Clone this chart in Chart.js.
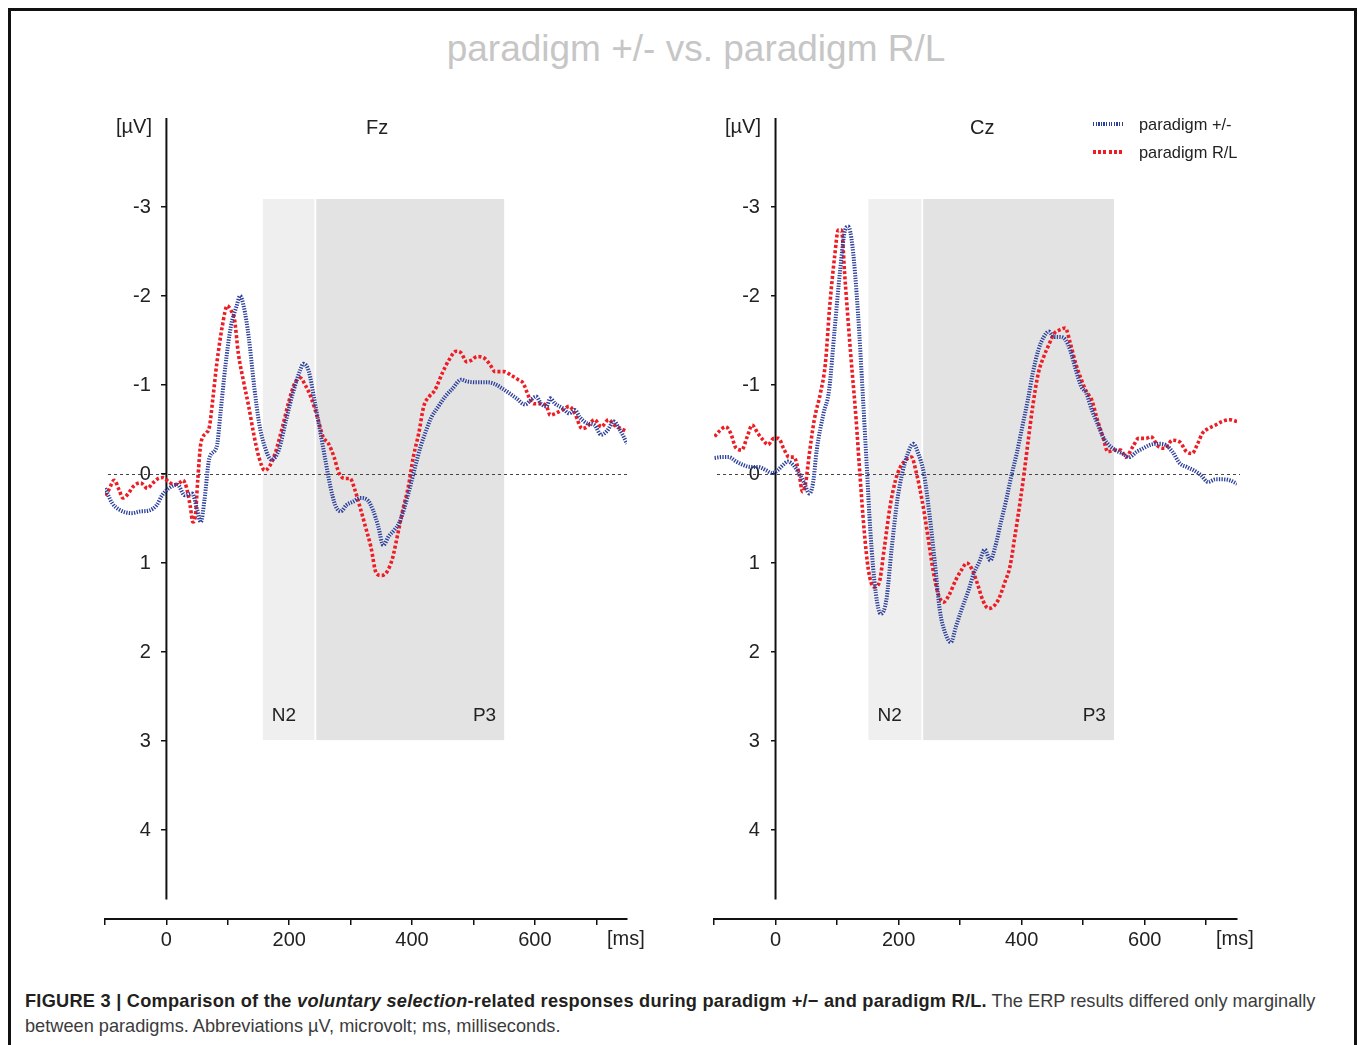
<!DOCTYPE html>
<html><head><meta charset="utf-8">
<script src="https://cdn.jsdelivr.net/npm/chart.js@4.4.1/dist/chart.umd.min.js"></script>
<style>
html,body{margin:0;padding:0;background:#fff;width:1358px;height:1045px;overflow:hidden;font-family:"Liberation Sans",Arial,Helvetica,sans-serif;}
#frame{position:absolute;left:8px;top:8px;width:1349px;height:1100px;border:3px solid #111;box-sizing:border-box;}
canvas{position:absolute;top:0;}
#c1{left:0;} #c2{left:680px;}
.t{position:absolute;white-space:nowrap;line-height:1;}
#title{left:0;width:1392px;text-align:center;top:30px;font-size:37px;color:#c6c6c6;}
.unit{font-size:20px;color:#222;}
.lead{font-size:20px;color:#222;}
.leg{font-size:16.4px;color:#222;}
.sw{position:absolute;width:30px;height:4px;}
#swb{left:1093px;top:122px;background:repeating-linear-gradient(90deg,#2b3f9b 0 1.3px,#fff 1.3px 2.6px);}
#swr{left:1093px;top:150px;background:repeating-linear-gradient(90deg,#ee1d25 0 3px,#fff 3px 5.2px);}
.cap{position:absolute;left:25px;white-space:nowrap;font-size:18.2px;color:#3b3b3b;line-height:1;}
.cap b{color:#231f20;letter-spacing:0.25px;}
</style></head>
<body>
<div id="frame"></div>
<div class="t" id="title">paradigm +/- vs. paradigm R/L</div>
<canvas id="c1" width="680" height="980"></canvas>
<canvas id="c2" width="678" height="980"></canvas>
<div class="t unit" style="left:116px;top:116px;">[µV]</div>
<div class="t unit" style="left:725px;top:116px;">[µV]</div>
<div class="t lead" style="left:366px;top:117px;">Fz</div>
<div class="t lead" style="left:970px;top:117px;">Cz</div>
<div class="t unit" style="left:607px;top:928px;">[ms]</div>
<div class="t unit" style="left:1216px;top:928px;">[ms]</div>
<div class="sw" id="swb"></div>
<div class="t leg" style="left:1139px;top:116px;">paradigm +/-</div>
<div class="sw" id="swr"></div>
<div class="t leg" style="left:1139px;top:144px;">paradigm R/L</div>
<div class="cap" style="top:992px;"><b>FIGURE 3 | Comparison of the <i>voluntary selection</i>-related responses during paradigm +/− and paradigm R/L.</b> The ERP results differed only marginally</div>
<div class="cap" style="top:1017px;">between paradigms. Abbreviations µV, microvolt; ms, milliseconds.</div>
<script>
// ---------- DATA ----------
const seriesNames = ['paradigm +/-', 'paradigm R/L'];
const xTicks = [-100, 0, 100, 200, 300, 400, 500, 600, 700];
const xTickLabels = ['', '0', '', '200', '', '400', '', '600', ''];
const yTicks = [-3, -2, -1, 0, 1, 2, 3, 4];
const yTickLabels = ['-3', '-2', '-1', '0', '1', '2', '3', '4'];
const regionLabels = ['N2', 'P3'];
const fzRegions = [[157, 241], [244, 550]];
const czRegions = [[151, 237], [240, 550]];
const shadeRange = [-3.09, 2.99];
const labelLevel = 2.72;
const zeroLineRange = [-100, 750];
const yAxisRange = [-4, 4.78];

// Fz, paradigm +/- (blue)
const fzBlueT = [-100,-88,-77,-57,-42,-28,-16,-7,4,18,30,42,50,56,62,70,82,88,96,105,114,120,126,134,143,151,160,171,183,195,206,218,223,232,241,249,258,267,275,284,293,304,316,327,336,345,353,362,371,379,388,397,405,414,423,431,443,454,466,480,489,506,524,535,547,558,570,584,593,602,610,619,625,633,645,656,665,673,685,697,708,717,729,737,743,750];
const fzBlueV = [0.16,0.33,0.40,0.44,0.42,0.41,0.35,0.24,0.16,0.12,0.24,0.22,0.40,0.54,0.29,-0.18,-0.31,-0.68,-1.21,-1.66,-1.88,-2.00,-1.88,-1.54,-0.98,-0.57,-0.31,-0.16,-0.27,-0.61,-0.91,-1.17,-1.24,-1.15,-0.83,-0.53,-0.19,0.14,0.35,0.42,0.35,0.31,0.27,0.29,0.40,0.59,0.80,0.70,0.63,0.55,0.37,0.14,-0.08,-0.31,-0.49,-0.63,-0.76,-0.87,-0.96,-1.06,-1.04,-1.03,-1.03,-1.01,-0.96,-0.91,-0.85,-0.78,-0.83,-0.87,-0.79,-0.76,-0.85,-0.79,-0.74,-0.68,-0.72,-0.64,-0.57,-0.55,-0.44,-0.48,-0.59,-0.51,-0.44,-0.34];
// Fz, paradigm R/L (red)
const fzRedT = [-100,-94,-85,-77,-71,-62,-54,-42,-31,-22,-13,-5,4,13,21,27,33,39,43,47,51,56,65,70,76,82,91,99,105,111,117,125,134,143,151,160,169,177,189,200,209,218,226,235,247,255,264,273,281,290,299,307,316,324,333,342,350,359,368,376,385,394,402,411,419,428,437,449,460,472,480,489,497,506,518,527,535,550,561,573,581,590,598,610,619,625,633,645,656,665,677,685,697,708,720,729,740,749];
const fzRedV = [0.24,0.18,0.07,0.18,0.27,0.22,0.14,0.10,0.16,0.10,0.05,0.04,0.09,0.12,0.10,0.07,0.16,0.37,0.54,0.48,0.07,-0.34,-0.46,-0.53,-0.87,-1.24,-1.66,-1.89,-1.84,-1.73,-1.36,-1.06,-0.76,-0.42,-0.18,-0.04,-0.10,-0.23,-0.53,-0.83,-1.02,-1.08,-1.00,-0.87,-0.61,-0.42,-0.34,-0.19,-0.01,0.05,0.05,0.18,0.39,0.59,0.82,1.12,1.14,1.10,0.95,0.70,0.40,0.14,-0.19,-0.46,-0.76,-0.87,-0.94,-1.13,-1.28,-1.38,-1.36,-1.26,-1.28,-1.32,-1.30,-1.23,-1.15,-1.15,-1.11,-1.06,-1.02,-0.87,-0.79,-0.79,-0.76,-0.66,-0.68,-0.72,-0.76,-0.68,-0.51,-0.53,-0.61,-0.53,-0.61,-0.55,-0.51,-0.48];
// Cz, paradigm +/- (blue)
const czBlueT = [-99,-87,-76,-64,-52,-41,-29,-15,-6,3,12,20,29,38,46,55,61,67,78,87,96,105,113,118,125,134,142,148,154,163,171,180,189,198,206,215,224,232,241,250,259,267,276,285,293,302,314,322,331,340,349,357,366,375,383,392,401,410,418,427,436,444,453,462,471,479,488,497,505,514,523,532,540,552,564,575,587,598,610,622,633,645,657,668,680,691,703,715,726,738,750];
const czBlueV = [-0.18,-0.19,-0.19,-0.14,-0.10,-0.08,-0.08,-0.04,-0.01,-0.04,-0.10,-0.14,-0.10,-0.01,0.09,0.22,0.10,-0.27,-0.68,-0.94,-1.62,-2.29,-2.74,-2.78,-2.56,-1.81,-0.87,-0.12,0.63,1.34,1.57,1.42,0.82,0.29,-0.01,-0.23,-0.34,-0.23,-0.01,0.44,1.00,1.53,1.79,1.89,1.72,1.53,1.30,1.12,0.99,0.85,0.97,0.82,0.55,0.29,0.03,-0.23,-0.53,-0.83,-1.13,-1.39,-1.54,-1.60,-1.54,-1.54,-1.51,-1.39,-1.17,-0.98,-0.91,-0.72,-0.57,-0.42,-0.34,-0.27,-0.23,-0.19,-0.25,-0.29,-0.33,-0.34,-0.33,-0.25,-0.12,-0.08,-0.04,0.01,0.09,0.06,0.06,0.07,0.11];
// Cz, paradigm R/L (red)
const czRedT = [-99,-90,-81,-73,-64,-55,-46,-38,-29,-20,-12,-3,5,13,22,30,38,44,49,55,63,73,81,88,96,102,107,113,122,131,137,144,151,160,168,177,186,195,203,212,221,229,238,247,256,264,273,282,293,302,311,320,328,337,346,354,363,372,381,389,398,404,410,418,427,436,444,453,462,471,479,488,497,505,514,523,532,540,552,561,569,581,590,602,610,622,633,645,657,668,677,686,694,703,715,726,738,750];
const czRedV = [-0.42,-0.49,-0.53,-0.46,-0.29,-0.27,-0.42,-0.55,-0.46,-0.38,-0.33,-0.40,-0.40,-0.29,-0.19,-0.19,-0.01,0.20,0.10,-0.23,-0.61,-0.91,-1.24,-1.88,-2.44,-2.74,-2.74,-2.18,-1.36,-0.61,-0.01,0.63,1.08,1.27,1.23,0.82,0.37,0.07,-0.08,-0.16,-0.19,-0.01,0.29,0.67,1.08,1.34,1.44,1.36,1.19,1.08,1.00,1.08,1.23,1.42,1.51,1.49,1.40,1.23,1.04,0.70,0.29,-0.01,-0.34,-0.76,-1.13,-1.32,-1.45,-1.58,-1.62,-1.64,-1.47,-1.24,-1.06,-0.93,-0.83,-0.61,-0.42,-0.25,-0.27,-0.27,-0.19,-0.31,-0.40,-0.40,-0.42,-0.31,-0.29,-0.38,-0.36,-0.25,-0.23,-0.34,-0.46,-0.51,-0.55,-0.59,-0.61,-0.59];

// ---------- STYLE / CHART ----------
const FONT = '"Liberation Sans", Arial, Helvetica, sans-serif';
const pts = (t, v) => t.map((x, i) => ({x, y: v[i]}));
// y labels sit left of the axis: trailing spaces push right-aligned text away from the tick marks
const Y_LABEL_GAP = '\u2002 ';

const decorPlugin = {
  id: 'decor',
  beforeDatasetsDraw(chart, args, opts) {
    const {ctx, scales: {x, y}} = chart;
    const top = y.getPixelForValue(shadeRange[0]);
    const bot = y.getPixelForValue(shadeRange[1]);
    ctx.save();
    const fills = ['#efefef', '#e3e3e3'];
    opts.regions.forEach((r, i) => {
      const x0 = x.getPixelForValue(r[0]), x1 = x.getPixelForValue(r[1]);
      ctx.fillStyle = fills[i];
      ctx.fillRect(x0, top, x1 - x0, bot - top);
    });
    // zero line
    ctx.strokeStyle = '#444';
    ctx.lineWidth = 1;
    ctx.setLineDash([3, 3]);
    const yz = Math.round(y.getPixelForValue(0)) + 0.5;
    ctx.beginPath();
    ctx.moveTo(x.getPixelForValue(zeroLineRange[0]) + 3, yz);
    ctx.lineTo(x.getPixelForValue(zeroLineRange[1]) + 3, yz);
    ctx.stroke();
    // y axis line
    ctx.setLineDash([]);
    ctx.strokeStyle = '#111';
    ctx.lineWidth = 2;
    const xa = x.getPixelForValue(0);
    ctx.beginPath();
    ctx.moveTo(xa, y.getPixelForValue(yAxisRange[0]));
    ctx.lineTo(xa, y.getPixelForValue(yAxisRange[1]));
    ctx.stroke();
    // region labels
    ctx.fillStyle = '#222';
    ctx.font = '19px ' + FONT;
    ctx.textBaseline = 'middle';
    const ly = y.getPixelForValue(labelLevel);
    ctx.textAlign = 'left';
    ctx.fillText(regionLabels[0], x.getPixelForValue(opts.regions[0][0]) + 9, ly);
    ctx.textAlign = 'right';
    ctx.fillText(regionLabels[1], x.getPixelForValue(opts.regions[1][1]) - 8, ly);
    ctx.restore();
  }
};

function makeChart(id, blueT, blueV, redT, redV, regions, pad) {
  return new Chart(document.getElementById(id), {
    type: 'line',
    data: {
      datasets: [
        {label: seriesNames[0], data: pts(blueT, blueV), borderColor: '#2b3f9b', borderWidth: 4,
         borderDash: [1.3, 1.3], borderCapStyle: 'butt', pointRadius: 0, fill: false, cubicInterpolationMode: 'monotone'},
        {label: seriesNames[1], data: pts(redT, redV), borderColor: '#ee1d25', borderWidth: 3.6,
         borderDash: [3, 2.2], borderCapStyle: 'butt', pointRadius: 0, fill: false, cubicInterpolationMode: 'monotone'}
      ]
    },
    options: {
      responsive: false, animation: false, devicePixelRatio: 1, events: [],
      layout: {padding: pad},
      plugins: {legend: {display: false}, tooltip: {enabled: false}, title: {display: false}, decor: {regions}},
      scales: {
        x: {
          type: 'linear', min: -100, max: 750, position: 'bottom',
          afterBuildTicks: s => { s.ticks = xTicks.map(v => ({value: v})); },
          afterFit: s => { s.height = 40; },
          border: {display: true, color: '#111', width: 2},
          grid: {drawOnChartArea: false, drawTicks: true, tickLength: 6, color: '#111', lineWidth: 1.5},
          ticks: {autoSkip: false, maxRotation: 0, font: {size: 20, family: FONT}, color: '#222', padding: 3,
                  callback: (v, i) => xTickLabels[i]}
        },
        y: {
          type: 'linear', reverse: true, min: -4, max: 5, position: {x: 0},
          afterBuildTicks: s => { s.ticks = yTicks.map(v => ({value: v})); },
          border: {display: false},
          grid: {drawOnChartArea: false, drawTicks: true, tickLength: 5, color: '#111', lineWidth: 1.5},
          ticks: {font: {size: 20, family: FONT}, color: '#222', padding: 11,
                  callback: (v, i) => yTickLabels[i] + Y_LABEL_GAP}
        }
      }
    },
    plugins: [decorPlugin]
  });
}

makeChart('c1', fzBlueT, fzBlueV, fzRedT, fzRedV, fzRegions, {left: 105, right: 53, top: 118, bottom: 21});
makeChart('c2', czBlueT, czBlueV, czRedT, czRedV, czRegions, {left: 34, right: 121, top: 118, bottom: 21});
</script>
</body></html>
